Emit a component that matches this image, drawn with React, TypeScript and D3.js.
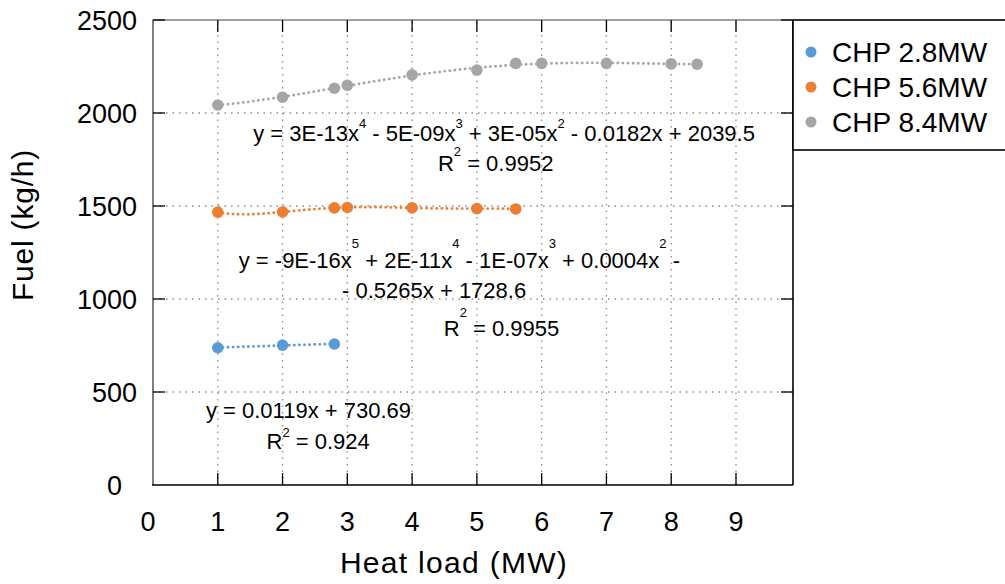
import React from "react";
import * as d3 from "d3";

// ---- data ----
const xTickValues = [0, 1, 2, 3, 4, 5, 6, 7, 8, 9];
const yTickValues = [0, 500, 1000, 1500, 2000, 2500];

const seriesNames = ["CHP 2.8MW", "CHP 5.6MW", "CHP 8.4MW"];
const seriesColors = ["#5B9BD5", "#ED7D31", "#A5A5A5"];

const chp28Load = [1, 2, 2.8];
const chp28Fuel = [738, 752, 758];

const chp56Load = [1, 2, 2.8, 3, 4, 5, 5.6];
const chp56Fuel = [1467, 1468, 1490, 1492, 1490, 1486, 1484];

const chp84Load = [1, 2, 2.8, 3, 4, 5, 5.6, 6, 7, 8, 8.4];
const chp84Fuel = [2043, 2085, 2133, 2149, 2205, 2231, 2267, 2267, 2267, 2264, 2262];

const trendDegrees = [1, 5, 4];

// equation labels (main text pieces with superscripts)
type Piece = { t: string; sup?: boolean };
const eq84: Piece[] = [
  { t: "y = 3E-13x" }, { t: "4", sup: true }, { t: " - 5E-09x" }, { t: "3", sup: true },
  { t: " + 3E-05x" }, { t: "2", sup: true }, { t: " - 0.0182x + 2039.5" },
];
const r84: Piece[] = [{ t: "R" }, { t: "2", sup: true }, { t: " = 0.9952" }];
const eq56a: Piece[] = [
  { t: "y = -9E-16x" }, { t: "5", sup: true }, { t: " + 2E-11x" }, { t: "4", sup: true },
  { t: " - 1E-07x" }, { t: "3", sup: true }, { t: " + 0.0004x" }, { t: "2", sup: true }, { t: " -" },
];
const eq56b: Piece[] = [{ t: "- 0.5265x + 1728.6" }];
const r56: Piece[] = [{ t: "R" }, { t: "2", sup: true }, { t: " = 0.9955" }];
const eq28: Piece[] = [{ t: "y = 0.0119x + 730.69" }];
const r28: Piece[] = [{ t: "R" }, { t: "2", sup: true }, { t: " = 0.924" }];

// ---- helpers ----
function polyfit(xs: number[], ys: number[], deg: number): number[] {
  const n = deg + 1;
  const A: number[][] = Array.from({ length: n }, () => new Array(n + 1).fill(0));
  for (let i = 0; i < xs.length; i++) {
    for (let r = 0; r < n; r++) {
      for (let c = 0; c < n; c++) A[r][c] += Math.pow(xs[i], r + c);
      A[r][n] += ys[i] * Math.pow(xs[i], r);
    }
  }
  for (let col = 0; col < n; col++) {
    let piv = col;
    for (let r = col + 1; r < n; r++) if (Math.abs(A[r][col]) > Math.abs(A[piv][col])) piv = r;
    [A[col], A[piv]] = [A[piv], A[col]];
    for (let r = 0; r < n; r++) {
      if (r === col) continue;
      const f = A[r][col] / A[col][col];
      for (let c = col; c <= n; c++) A[r][c] -= f * A[col][c];
    }
  }
  return A.map((row, i) => row[n] / row[i]);
}
const evalPoly = (co: number[], x: number) => co.reduce((s, c, i) => s + c * Math.pow(x, i), 0);

const FONT = "'Liberation Sans', Arial, Helvetica, sans-serif";

function EqText({ pieces, x, y, raise, size = 22 }: { pieces: Piece[]; x: number; y: number; raise: number; size?: number }) {
  const out: React.ReactNode[] = [];
  let lifted = false;
  pieces.forEach((p, i) => {
    if (p.sup) {
      out.push(<tspan key={i} fontSize={13} dy={-raise}>{p.t}</tspan>);
      lifted = true;
    } else {
      out.push(<tspan key={i} dy={lifted ? raise : 0}>{p.t}</tspan>);
      lifted = false;
    }
  });
  return (
    <text x={x} y={y} textAnchor="middle" fontSize={size} fontFamily={FONT} fill="#000" xmlSpace="preserve" style={{ whiteSpace: "pre" }}>
      {out}
    </text>
  );
}

export default function App() {
  const W = 1005, H = 584;
  const x = d3.scaleLinear().domain([0, 9.88]).range([153, 793]);
  const y = d3.scaleLinear().domain([0, 2500]).range([485, 20]);
  const x0 = x.range()[0], x1 = x.range()[1];
  const y0 = y.range()[0], y1 = y.range()[1];

  const loads = [chp28Load, chp56Load, chp84Load];
  const fuels = [chp28Fuel, chp56Fuel, chp84Fuel];

  const trendPaths = loads.map((xs, si) => {
    const co = polyfit(xs, fuels[si], trendDegrees[si]);
    const lo = d3.min(xs)!, hi = d3.max(xs)!;
    const pts = d3.range(0, 121).map((k) => {
      const xv = lo + ((hi - lo) * k) / 120;
      return [x(xv), y(evalPoly(co, xv))] as [number, number];
    });
    return d3.line()(pts) || "";
  });

  const gridX = xTickValues.filter((v) => v > 0);
  const gridY = yTickValues.filter((v) => v > 0 && v < 2500);
  const tickLen = 12;

  // annotation anchors in data units (centres of text lines)
  const ann = [
    { p: eq84, ax: 5.42, ay: 1850, raise: 13 },
    { p: r84, ax: 5.29, ay: 1688, raise: 15 },
    { p: eq56a, ax: 4.73, ay: 1168, raise: 20 },
    { p: eq56b, ax: 4.34, ay: 1005, raise: 0 },
    { p: r56, ax: 5.38, ay: 800, raise: 19 },
    { p: eq28, ax: 2.40, ay: 362, raise: 0 },
    { p: r28, ax: 2.55, ay: 195, raise: 12 },
  ];

  return (
    <svg width={W} height={H} style={{ position: "absolute", left: 0, top: 0, background: "#fff" }}>
      <rect x={0} y={0} width={W} height={H} fill="#fff" />
      {/* gridlines */}
      <g stroke="#8c8c8c" strokeWidth={1.3} strokeDasharray="1.5 5">
        {gridX.map((v) => (
          <line key={"gx" + v} x1={x(v)} x2={x(v)} y1={y0} y2={y1} />
        ))}
        {gridY.map((v) => (
          <line key={"gy" + v} x1={x0} x2={x1} y1={y(v)} y2={y(v)} />
        ))}
      </g>

      {/* trend lines */}
      {trendPaths.map((d, i) => (
        <path key={"t" + i} d={d} fill="none" stroke={seriesColors[i]} strokeWidth={2.8}
          strokeDasharray="0.1 5" strokeLinecap="round" />
      ))}

      {/* points */}
      {loads.map((xs, si) =>
        xs.map((xv, j) => (
          <circle key={`p${si}-${j}`} cx={x(xv)} cy={y(fuels[si][j])} r={5.8} fill={seriesColors[si]} />
        ))
      )}

      {/* frame */}
      <line x1={x0} x2={x1} y1={y1} y2={y1} stroke="#7f7f7f" strokeWidth={1.5} />
      <line x1={x0} x2={x0} y1={y1 - 0.5} y2={y0} stroke="#7f7f7f" strokeWidth={2} />
      <line x1={x0 - 1} x2={x1} y1={y0} y2={y0} stroke="#000" strokeWidth={1.6} />
      <line x1={x1} x2={x1} y1={y1} y2={y0} stroke="#000" strokeWidth={1.6} />

      {/* ticks */}
      <g stroke="#000" strokeWidth={1.3}>
        {gridX.map((v) => (
          <g key={"tx" + v}>
            <line x1={x(v)} x2={x(v)} y1={y0} y2={y0 - tickLen} />
            <line x1={x(v)} x2={x(v)} y1={y1} y2={y1 + tickLen} />
          </g>
        ))}
        {yTickValues.filter((v) => v > 0).map((v) => (
          <g key={"ty" + v}>
            <line x1={x0} x2={x0 + tickLen} y1={y(v)} y2={y(v)} />
            <line x1={x1} x2={x1 - tickLen} y1={y(v)} y2={y(v)} />
          </g>
        ))}
      </g>

      {/* tick labels */}
      <g fontFamily={FONT} fontSize={27} fill="#000">
        {xTickValues.map((v) => (
          <text key={"lx" + v} x={x(v) - (v === 0 ? 5 : 0)} y={531} textAnchor="middle">{v}</text>
        ))}
        {yTickValues.map((v) => (
          <text key={"ly" + v} x={v === 0 ? 122 : 137} y={y(v)} dy="0.36em" textAnchor="end">{v}</text>
        ))}
      </g>

      {/* axis titles */}
      <text x={454} y={573} textAnchor="middle" fontFamily={FONT} fontSize={30} letterSpacing={1.3} fill="#000">
        Heat load (MW)
      </text>
      <text transform="translate(33,225) rotate(-90)" textAnchor="middle" fontFamily={FONT} fontSize={30} letterSpacing={0.8} fill="#000">
        Fuel (kg/h)
      </text>

      {/* equations */}
      {ann.map((a, i) => (
        <EqText key={"eq" + i} pieces={a.p} x={x(a.ax)} y={y(a.ay)} raise={a.raise} />
      ))}

      {/* legend */}
      <rect x={x1} y={y1} width={240} height={130} fill="#fff" stroke="#000" strokeWidth={1.6} />
      {seriesNames.map((n, i) => (
        <g key={"lg" + i}>
          <circle cx={811} cy={52 + i * 35} r={5.5} fill={seriesColors[i]} />
          <text x={832} y={52 + i * 35} dy="0.35em" fontFamily={FONT} fontSize={28} fill="#000">{n}</text>
        </g>
      ))}
    </svg>
  );
}
